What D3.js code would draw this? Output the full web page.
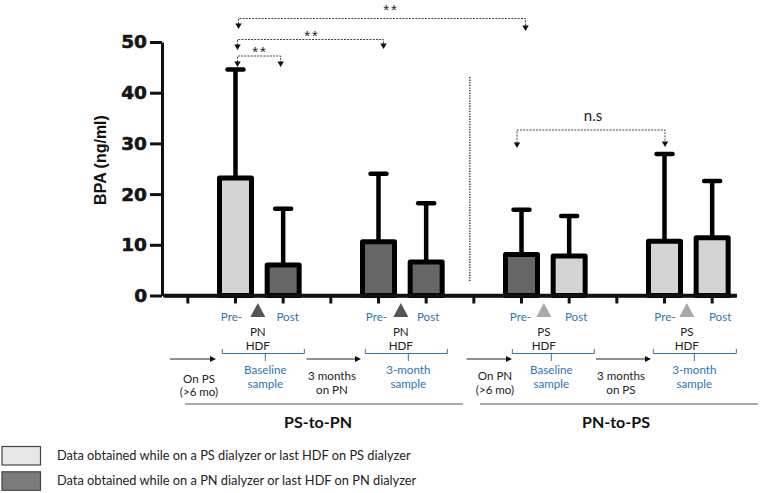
<!DOCTYPE html>
<html><head><meta charset="utf-8">
<script src="https://cdn.jsdelivr.net/npm/d3@7"></script>
<style>body{margin:0;background:#fff}</style>
</head><body>
<svg id="chart" width="760" height="493" xmlns="http://www.w3.org/2000/svg"></svg>
<script>
// ---------- data ----------
const slots = ["gap0","A-Pre","A-Post","gap1","B-Pre","B-Post","gap2","C-Pre","C-Post","gap3","D-Pre","D-Post"];
const barSlots = ["A-Pre","A-Post","B-Pre","B-Post","C-Pre","C-Post","D-Pre","D-Post"];
const means    = [23.2, 6.0, 10.6, 6.6, 8.1, 7.8, 10.7, 11.4];
const sdUpper  = [44.6, 17.1, 24.0, 18.2, 16.9, 15.7, 27.9, 22.6];
const dialyzer = ["PS","PN","PN","PN","PN","PS","PS","PS"];
const yTicks = [0, 10, 20, 30, 40, 50];
const yLabel = "BPA (ng/ml)";
const compFrom  = ["A-Pre","A-Pre","A-Pre","C-Pre"];
const compTo    = ["C-Pre","B-Pre","A-Post","D-Pre"];
const compLabel = ["**","**","**","n.s"];
const sessions = ["A","B","C","D"];
const hdfLabel = ["PN","PN","PS","PS"];
const sampleLine1 = ["Baseline","3-month","Baseline","3-month"];
const sampleLine2 = ["sample","sample","sample","sample"];
const leadLine1 = ["On PS","3 months","On PN","3 months"];
const leadLine2 = ["(>6 mo)","on PN","(>6 mo)","on PS"];
const groupNames = ["PS-to-PN","PN-to-PS"];
const legendLabels = ["Data obtained while on a PS dialyzer or last HDF on PS dialyzer",
                      "Data obtained while on a PN dialyzer or last HDF on PN dialyzer"];

// ---------- layout ----------
const svg = d3.select("#chart");
const colors = {PS:"#d4d4d4", PN:"#666666"};
const legendFill = ["#e8e8e8","#7c7c7c"];
const blue = "#2e75b6";
const txtFont = "Lato, 'Open Sans', sans-serif";

const x = d3.scaleBand().domain(slots).range([164, 736]);
const y = d3.scaleLinear().domain([0, 50]).range([295.5, 42]);
const cx = s => x(s) + x.bandwidth()/2;

// y axis
const yAxis = svg.append("g").attr("transform","translate(162,0)")
  .call(d3.axisLeft(y).tickValues(yTicks).tickSize(12).tickSizeOuter(0).tickPadding(3));
yAxis.select(".domain").attr("stroke","#111").attr("stroke-width",3);
yAxis.selectAll(".tick line").attr("stroke","#111").attr("stroke-width",3);
yAxis.selectAll(".tick text").attr("font-family","'DejaVu Sans', sans-serif")
  .attr("font-weight","bold").attr("font-size",18.5).attr("fill","#151515")
  .attr("stroke","#151515").attr("stroke-width",0.6);

svg.append("text").attr("transform","translate(106,160) rotate(-90)")
  .attr("text-anchor","middle").attr("font-family","'Liberation Sans', Arial, sans-serif")
  .attr("font-weight","bold").attr("font-size",16).attr("fill","#111").text(yLabel);

// x axis
const xAxis = svg.append("g").attr("transform","translate(0,295.5)")
  .call(d3.axisBottom(x).tickSize(8).tickSizeOuter(0).tickFormat(""));
xAxis.select(".domain").attr("stroke","#111").attr("stroke-width",3.5);
xAxis.selectAll(".tick line").attr("stroke","#111").attr("stroke-width",3);

// bars
const bw = 32;
const barData = barSlots.map((s,i)=>({s, m:means[i], u:sdUpper[i], d:dialyzer[i]}));
const bars = svg.append("g");
bars.selectAll("line.err").data(barData).join("line").attr("class","err")
  .attr("x1",d=>cx(d.s)).attr("x2",d=>cx(d.s)).attr("y1",d=>y(d.m)).attr("y2",d=>y(d.u))
  .attr("stroke","#000").attr("stroke-width",4.5);
bars.selectAll("line.cap").data(barData).join("line").attr("class","cap")
  .attr("x1",d=>cx(d.s)-8).attr("x2",d=>cx(d.s)+8).attr("y1",d=>y(d.u)).attr("y2",d=>y(d.u))
  .attr("stroke","#000").attr("stroke-width",4.5).attr("stroke-linecap","round");
bars.selectAll("rect").data(barData).join("rect")
  .attr("x",d=>cx(d.s)-bw/2).attr("width",bw)
  .attr("y",d=>y(d.m)).attr("height",d=>y(0)-y(d.m))
  .attr("fill",d=>colors[d.d]).attr("stroke","#000").attr("stroke-width",5)
  .attr("stroke-linejoin","round");
svg.append("line").attr("x1",163).attr("x2",737).attr("y1",295.5).attr("y2",295.5)
  .attr("stroke","#111").attr("stroke-width",3.5);

// vertical dotted separator
svg.append("line").attr("x1",cx("gap2")-4).attr("x2",cx("gap2")-4).attr("y1",77).attr("y2",281)
  .attr("stroke","#222").attr("stroke-width",1.3).attr("stroke-dasharray","1.3,1.3");

// significance brackets
const brY = [18.5, 39.5, 56, 130];
const brDx1 = [3, 2, 2, -4.5];
const brDx2 = [4, 5, -2.5, 0.5];
const tipY1 = [29, 50, 67, 148];
const tipY2 = [31, 49, 67, 147];
const labPos = [[391,15],[312,41],[260,56.5],[593,121]];
const br = svg.append("g");
compFrom.forEach((f,i)=>{
  const x1 = cx(f)+brDx1[i], x2 = cx(compTo[i])+brDx2[i];
  br.append("path").attr("d",`M${x1},${tipY1[i]-5}V${brY[i]}H${x2}V${tipY2[i]-5}`)
    .attr("fill","none").attr("stroke","#444").attr("stroke-width",1).attr("stroke-dasharray","2,1.2");
  [[x1,tipY1[i]],[x2,tipY2[i]]].forEach(([ax,ay])=>{
    br.append("path").attr("d",`M${ax-3.2},${ay-5.5}L${ax+3.2},${ay-5.5}L${ax},${ay}Z`).attr("fill","#111");
  });
  const t = br.append("text").attr("x",labPos[i][0]).attr("y",labPos[i][1]).attr("text-anchor","middle")
    .attr("fill","#222").text(compLabel[i]);
  if (compLabel[i]==="**") t.attr("font-family","'Liberation Sans', sans-serif").attr("font-size",15).attr("letter-spacing",2);
  else t.attr("font-family",txtFont).attr("font-size",15);
});

// annotations under axis
const ann = svg.append("g").attr("font-family",txtFont).attr("font-size",11.6);
const triFill = {PN:"#555555", PS:"#a9a9a9"};
const bracketL = [-37,-37,-33,-35], bracketR = [45,45,49,48];
const leadX1 = [170, 306.5, 466.5, 596], leadX2 = [216, 361, 512, 651];
const leadTxtX = [199, 332, 495, 621];
const leadTxtY = [[379,392.5],[376,390],[376,390.5],[376,390]];
const preDx = [-4,-2,-1,0.5], postDx = [4.5,2,7,8];
sessions.forEach((g,i)=>{
  const pre = cx(g+"-Pre"), post = cx(g+"-Post"), mid = (pre+post)/2;
  const tx = mid - 1.5;
  ann.append("text").attr("x",pre+preDx[i]).attr("y",320.5).attr("text-anchor","middle").attr("fill",blue).text("Pre-");
  ann.append("text").attr("x",post+postDx[i]).attr("y",320.5).attr("text-anchor","middle").attr("fill",blue).text("Post");
  ann.append("path").attr("d",`M${tx-7.5},317L${tx+7.5},317L${tx},303Z`).attr("fill",triFill[hdfLabel[i]]);
  ann.append("text").attr("x",tx).attr("y",335.5).attr("text-anchor","middle").attr("fill","#222").text(hdfLabel[i]);
  ann.append("text").attr("x",tx).attr("y",350).attr("text-anchor","middle").attr("fill","#222").text("HDF");
  const bl = mid+bracketL[i], brr = mid+bracketR[i], bc = mid+6;
  ann.append("path").attr("d",`M${bl},349V353.5H${brr}V349M${bc},353.5V361`)
    .attr("fill","none").attr("stroke",blue).attr("stroke-width",1);
  ann.append("text").attr("x",bc).attr("y",374).attr("text-anchor","middle").attr("fill",blue).text(sampleLine1[i]);
  ann.append("text").attr("x",bc).attr("y",388).attr("text-anchor","middle").attr("fill",blue).text(sampleLine2[i]);
  ann.append("line").attr("x1",leadX1[i]).attr("x2",leadX2[i]-5).attr("y1",359).attr("y2",359)
    .attr("stroke","#222").attr("stroke-width",1);
  ann.append("path").attr("d",`M${leadX2[i]},359L${leadX2[i]-6},356L${leadX2[i]-6},362Z`).attr("fill","#111");
  ann.append("text").attr("x",leadTxtX[i]).attr("y",leadTxtY[i][0]+3.5).attr("text-anchor","middle").attr("fill","#222").text(leadLine1[i]);
  ann.append("text").attr("x",leadTxtX[i]).attr("y",leadTxtY[i][1]+3.5).attr("text-anchor","middle").attr("fill","#222").text(leadLine2[i]);
});

// group lines and labels
const gLineX = [[185,463],[480,758]];
const gLabX = [318, 616];
groupNames.forEach((n,i)=>{
  svg.append("line").attr("x1",gLineX[i][0]).attr("x2",gLineX[i][1]).attr("y1",404).attr("y2",404)
    .attr("stroke","#555").attr("stroke-width",1);
  svg.append("text").attr("x",gLabX[i]).attr("y",427.5).attr("text-anchor","middle")
    .attr("font-family",txtFont).attr("font-weight","bold").attr("font-size",16).attr("fill","#111").text(n);
});

// legend
legendLabels.forEach((l,i)=>{
  const ly = 446.5 + i*25.3;
  svg.append("rect").attr("x",2).attr("y",ly).attr("width",38.5).attr("height",18.5)
    .attr("fill",legendFill[i]).attr("stroke","#444").attr("stroke-width",1.2);
  svg.append("text").attr("x",57).attr("y",ly+13.5).attr("font-family",txtFont).attr("font-size",12.8)
    .attr("fill","#222").text(l);
});
</script>
</body></html>
